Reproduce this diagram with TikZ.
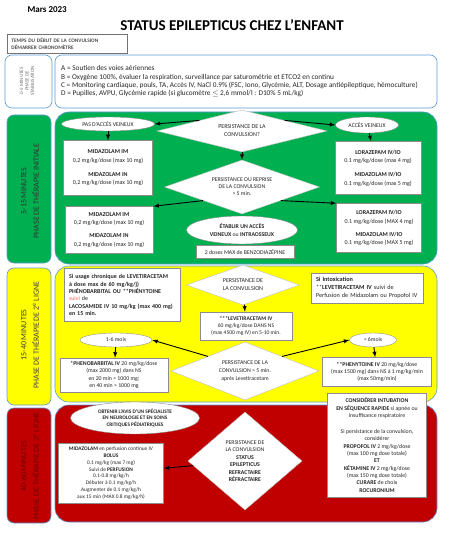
\documentclass[tikz,border=0pt]{standalone}
\usepackage{fontspec}
\setmainfont{Carlito}
\usetikzlibrary{shapes.geometric}

\definecolor{stabblue}{HTML}{5B9BD5}
\definecolor{initgreen}{HTML}{00B050}
\definecolor{secyellow}{HTML}{FFFF00}
\definecolor{thirdred}{HTML}{C00000}
\definecolor{darkred}{HTML}{6E0000}
\newcommand{\fsz}[2]{\fontsize{#1}{#2}\selectfont}

\begin{document}
\begin{tikzpicture}[x=1pt, y=-1pt, font=\fsz{6}{8.5}, text=black!85]
  \useasboundingbox (0,0) rectangle (448,537);
  \tikzset{mybox/.style={rectangle, draw=black!45, fill=white, line width=0.5pt, inner sep=1pt, align=center},
           mydia/.style={diamond, draw=black!25, fill=white, inner sep=0pt, align=center},
           myoval/.style={ellipse, draw=black!45, fill=white, inner sep=0pt, align=center},
           phase/.style={rounded corners=7pt, draw=stabblue, line width=0.6pt},
           go/.style={line width=0.9pt, arrows=-latex, draw=black}}

  % header
  \node[anchor=west, font=\bfseries\fsz{9}{10}, text=black] (month) at (24,10) {Mars 2023};
  \node[font=\bfseries\fsz{15}{17}, text=black] (title) at (232,25) {STATUS EPILEPTICUS CHEZ L’ENFANT};
  \node[rectangle, draw=black!55, line width=0.9pt, fill=white, anchor=north west, inner xsep=4pt, inner ysep=2pt,
        text width=112, minimum height=19, align=left, font=\bfseries\fsz{5.3}{7.5}, text=black!70] (clock) at (7,34)
        {TEMPS DU DÉBUT DE LA CONVULSION\\DÉMARRER CHRONOMÈTRE};

  % 0-5 minutes
  \draw[phase, fill=white] (5,55) rectangle (52,108);
  \draw[phase, fill=white] (55,55) rectangle (437,108);
  \node[rotate=90, align=center, font=\fsz{5}{5.6}, text=black!55] (stablbl) at (27,81) {0-5 MINUTES\\PHASE DE\\STABILISATION};
  \node[anchor=west, align=left, inner sep=0pt, font=\fsz{7.3}{8.3}] (abcd) at (61,81.5)
    {A = Soutien des voies aériennes\\
     B = Oxygène 100\%, évaluer la respiration, surveillance par saturométrie et ETCO2 en continu\\
     C = Monitoring cardiaque, pouls, TA, Accès IV, NaCl 0.9\% (FSC, Iono, Glycémie, ALT, Dosage antiépileptique, hémoculture)\\
     D = Pupilles, AVPU, Glycémie rapide (si glucomètre $\leq$ 2,6 mmol/l : D10\% 5 mL/kg)};

  % 5-15 minutes
  \draw[phase, fill=initgreen] (7,115) rectangle (51,263);
  \draw[phase, rounded corners=14pt, fill=initgreen] (55,112) rectangle (437,264);
  \node[rotate=90, align=center, font=\fsz{8}{12.5}, text=black!80] (initlbl) at (30,191) {5-15 MINUTES\\PHASE DE THÉRAPIE INITIALE};

  \node[myoval, minimum width=93, minimum height=14, font=\fsz{5.8}{7}] (noiv) at (108,124) {PAS D'ACCÈS VEINEUX};
  \node[mybox, minimum width=89, minimum height=55] (midaA) at (108,168)
    {\textbf{MIDAZOLAM IM}\\0,2 mg/kg/dose (max 10 mg)\\[5.5pt]\textbf{MIDAZOLAM IN}\\0,2 mg/kg/dose (max 10 mg)};
  \node[mydia, aspect=4.05, minimum width=170, minimum height=42, font=\fsz{6}{8}] (persA) at (242,131)
    {PERSISTANCE DE LA\\CONVULSION?};
  \node[myoval, minimum width=63, minimum height=16, font=\fsz{5.8}{7}] (iv) at (367,125) {ACCÈS VEINEUX};
  \node[mybox, minimum width=86, minimum height=53] (loraA) at (378,168)
    {\textbf{LORAZEPAM IV/IO}\\0.1 mg/kg/dose (max 4 mg)\\[5.5pt]\textbf{MIDAZOLAM IV/IO}\\0.1 mg/kg/dose (max 5 mg)};
  \node[mydia, aspect=2.87, minimum width=155, minimum height=54, font=\fsz{5.8}{7}] (persB) at (242,187)
    {PERSISTANCE OU REPRISE\\DE LA CONVULSION\\> 5 min.};
  \node[mybox, minimum width=88, minimum height=47] (midaB) at (109,230)
    {\textbf{MIDAZOLAM IM}\\0,2 mg/kg/dose (max 10 mg)\\[4.5pt]\textbf{MIDAZOLAM IN}\\0,2 mg/kg/dose (max 10 mg)};
  \node[mybox, minimum width=85, minimum height=49] (loraB) at (379,228)
    {\textbf{LORAZEPAM IV/IO}\\0.1 mg/kg/dose (MAX 4 mg)\\[4.5pt]\textbf{MIDAZOLAM IV/IO}\\0.1 mg/kg/dose (MAX 5 mg)};
  \node[myoval, minimum width=111, minimum height=28, font=\fsz{5.8}{7.5}] (access) at (242,230)
    {\textbf{ÉTABLIR UN ACCÈS}\\\textbf{VEINEUX} ou \textbf{INTRAOSSEUX}};
  \node[mybox, minimum width=98, minimum height=13, font=\fsz{5.8}{7}] (maxdose) at (245,252) {2 doses MAX de BENZODIAZÉPINE};

  \draw[go] (persA.north west) -- (noiv.east);
  \draw[go] (persA.north east) -- (iv.west);
  \draw[go] (noiv) -- (midaA);
  \draw[go] (iv) -- (loraA);
  \draw[go] (persA) -- (persB);
  \draw[go] (persB.south west) -- (midaB.north east);
  \draw[go] (persB.south east) -- (loraB.north west);

  % 15-40 minutes
  \draw[phase, fill=secyellow] (7,268) rectangle (51,405);
  \draw[phase, rounded corners=14pt, fill=secyellow] (55,266) rectangle (437,402);
  \node[rotate=90, align=center, font=\fsz{8}{12.5}, text=black!75] (seclbl) at (30,335) {15-40 MINUTES\\PHASE DE THÉRAPIE DE 2\textsuperscript{e} LIGNE};

  \node[mybox, inner xsep=5pt, text width=106, minimum height=53, align=left, font=\bfseries\fsz{6}{7.3}] (chronic) at (122,295)
    {Si usage chronique de LEVETIRACETAM\\à dose max de 60 mg/kg/j)\\*PHÉNOBARBITAL OU **PHÉNYTOINE\\{\mdseries\color{red!60}suivi} {\mdseries de}\\LACOSAMIDE IV 10 mg/kg (max 400 mg)\\en 15 min.};
  \node[mydia, aspect=2.8, minimum width=113, minimum height=40, font=\fsz{6}{8}] (persC) at (243,285)
    {PERSISTANCE DE\\LA CONVULSION};
  \node[mybox, minimum width=92, minimum height=28, font=\fsz{5.6}{7.3}] (leve) at (246,326)
    {\textbf{***LEVETIRACETAM IV}\\60 mg/kg/dose DANS NS\\(max 4500 mg IV) en 5-10 min.};
  \node[mybox, inner xsep=5pt, text width=102, minimum height=30, align=left, font=\fsz{6.2}{8.3}] (intox) at (367,288)
    {\textbf{Si Intoxication}\\***\textbf{LEVETIRACETAM IV} suivi de\\Perfusion de Midazolam ou Propofol IV};
  \node[myoval, minimum width=72, minimum height=14, font=\fsz{5.8}{7}] (young) at (116,340) {1-6 mois};
  \node[myoval, minimum width=47, minimum height=14, font=\fsz{5.8}{7}] (older) at (373,340) {> 6mois};
  \node[mydia, aspect=2.55, minimum width=148, minimum height=58, font=\fsz{5.8}{7.7}] (persD) at (245,371)
    {PERSISTANCE DE LA\\CONVULSION > 5 min.\\après Levetiracetam};
  \node[mybox, minimum width=108, minimum height=34, font=\fsz{5.8}{7.3}] (pheno) at (114,375)
    {\textbf{*PHENOBARBITAL IV} 20 mg/kg/dose\\(max 2000 mg) dans NS\\en 20 min < 1000 mg;\\en 40 min > 1000 mg};
  \node[mybox, minimum width=109, minimum height=29, font=\fsz{5.8}{7.3}] (pheny) at (377,372)
    {\textbf{**PHENYTOINE IV} 20 mg/kg/dose\\(max 1500 mg) dans NS à 1 mg/kg/min\\(max 50mg/min)};

  \draw[go] (persC) -- (leve);
  \draw[go] (persD.north west) -- (young.east);
  \draw[go] (persD.north east) -- (older.west);
  \draw[go] (young) -- (pheno);
  \draw[go] (older) -- (pheny);

  % 40-60 minutes
  \draw[phase, fill=thirdred] (7,408) rectangle (51,523);
  \draw[phase, rounded corners=14pt, fill=thirdred] (55,405) rectangle (437,522);
  \node[rotate=90, align=center, font=\fsz{8}{12.5}, text=darkred] (thirdlbl) at (30,466) {40-60 MINUTES\\PHASE DE THÉRAPIE DE 3\textsuperscript{e} LIGNE};

  \node[myoval, minimum width=129, minimum height=32, font=\bfseries\fsz{5.3}{6.7}] (expert) at (135,418)
    {OBTENIR L'AVIS D'UN SPÉCIALISTE\\EN NEUROLOGIE ET EN SOINS\\CRITIQUES PÉDIATRIQUES};
  \node[mybox, minimum width=105, minimum height=60, font=\fsz{5.4}{6.8}] (midaC) at (111,473)
    {\textbf{MIDAZOLAM} en perfusion continue IV\\\textbf{BOLUS}\\0.1 mg/kg (max 7 mg)\\Suivi de \textbf{PERFUSION}\\0.1-0.8 mg/kg/h\\Débuter à 0.1 mg/kg/h\\Augmenter de 0.1 mg/kg/h\\aux 15 min (MAX 0.8 mg/kg/h)};
  \node[mydia, aspect=1.16, minimum width=114, minimum height=98, font=\fsz{5.8}{7.5}] (refract) at (245,461)
    {PERSISTANCE DE\\LA CONVULSION\\\textbf{STATUS}\\\textbf{EPILEPTICUS}\\\textbf{REFRACTAIRE}\\\textbf{RÉFRACTAIRE}};
  \node[mybox, minimum width=99, minimum height=104, font=\fsz{5.8}{7.3}] (intub) at (377,445)
    {\textbf{CONSIDÉRER INTUBATION}\\\textbf{EN SÉQUENCE RAPIDE} si apnée ou\\insuffisance respiratoire\\[9pt]
     Si persistance de la convulsion,\\considérer\\\textbf{PROPOFOL IV} 2 mg/kg/dose\\(max 100 mg dose totale)\\\textbf{ET}\\
     \textbf{KÉTAMINE IV} 2 mg/kg/dose\\(max 150 mg dose totale)\\\textbf{CURARE} de choix\\\textbf{ROCURONIUM}};

  \draw[go] (refract) -- (midaC);
\end{tikzpicture}
\end{document}
